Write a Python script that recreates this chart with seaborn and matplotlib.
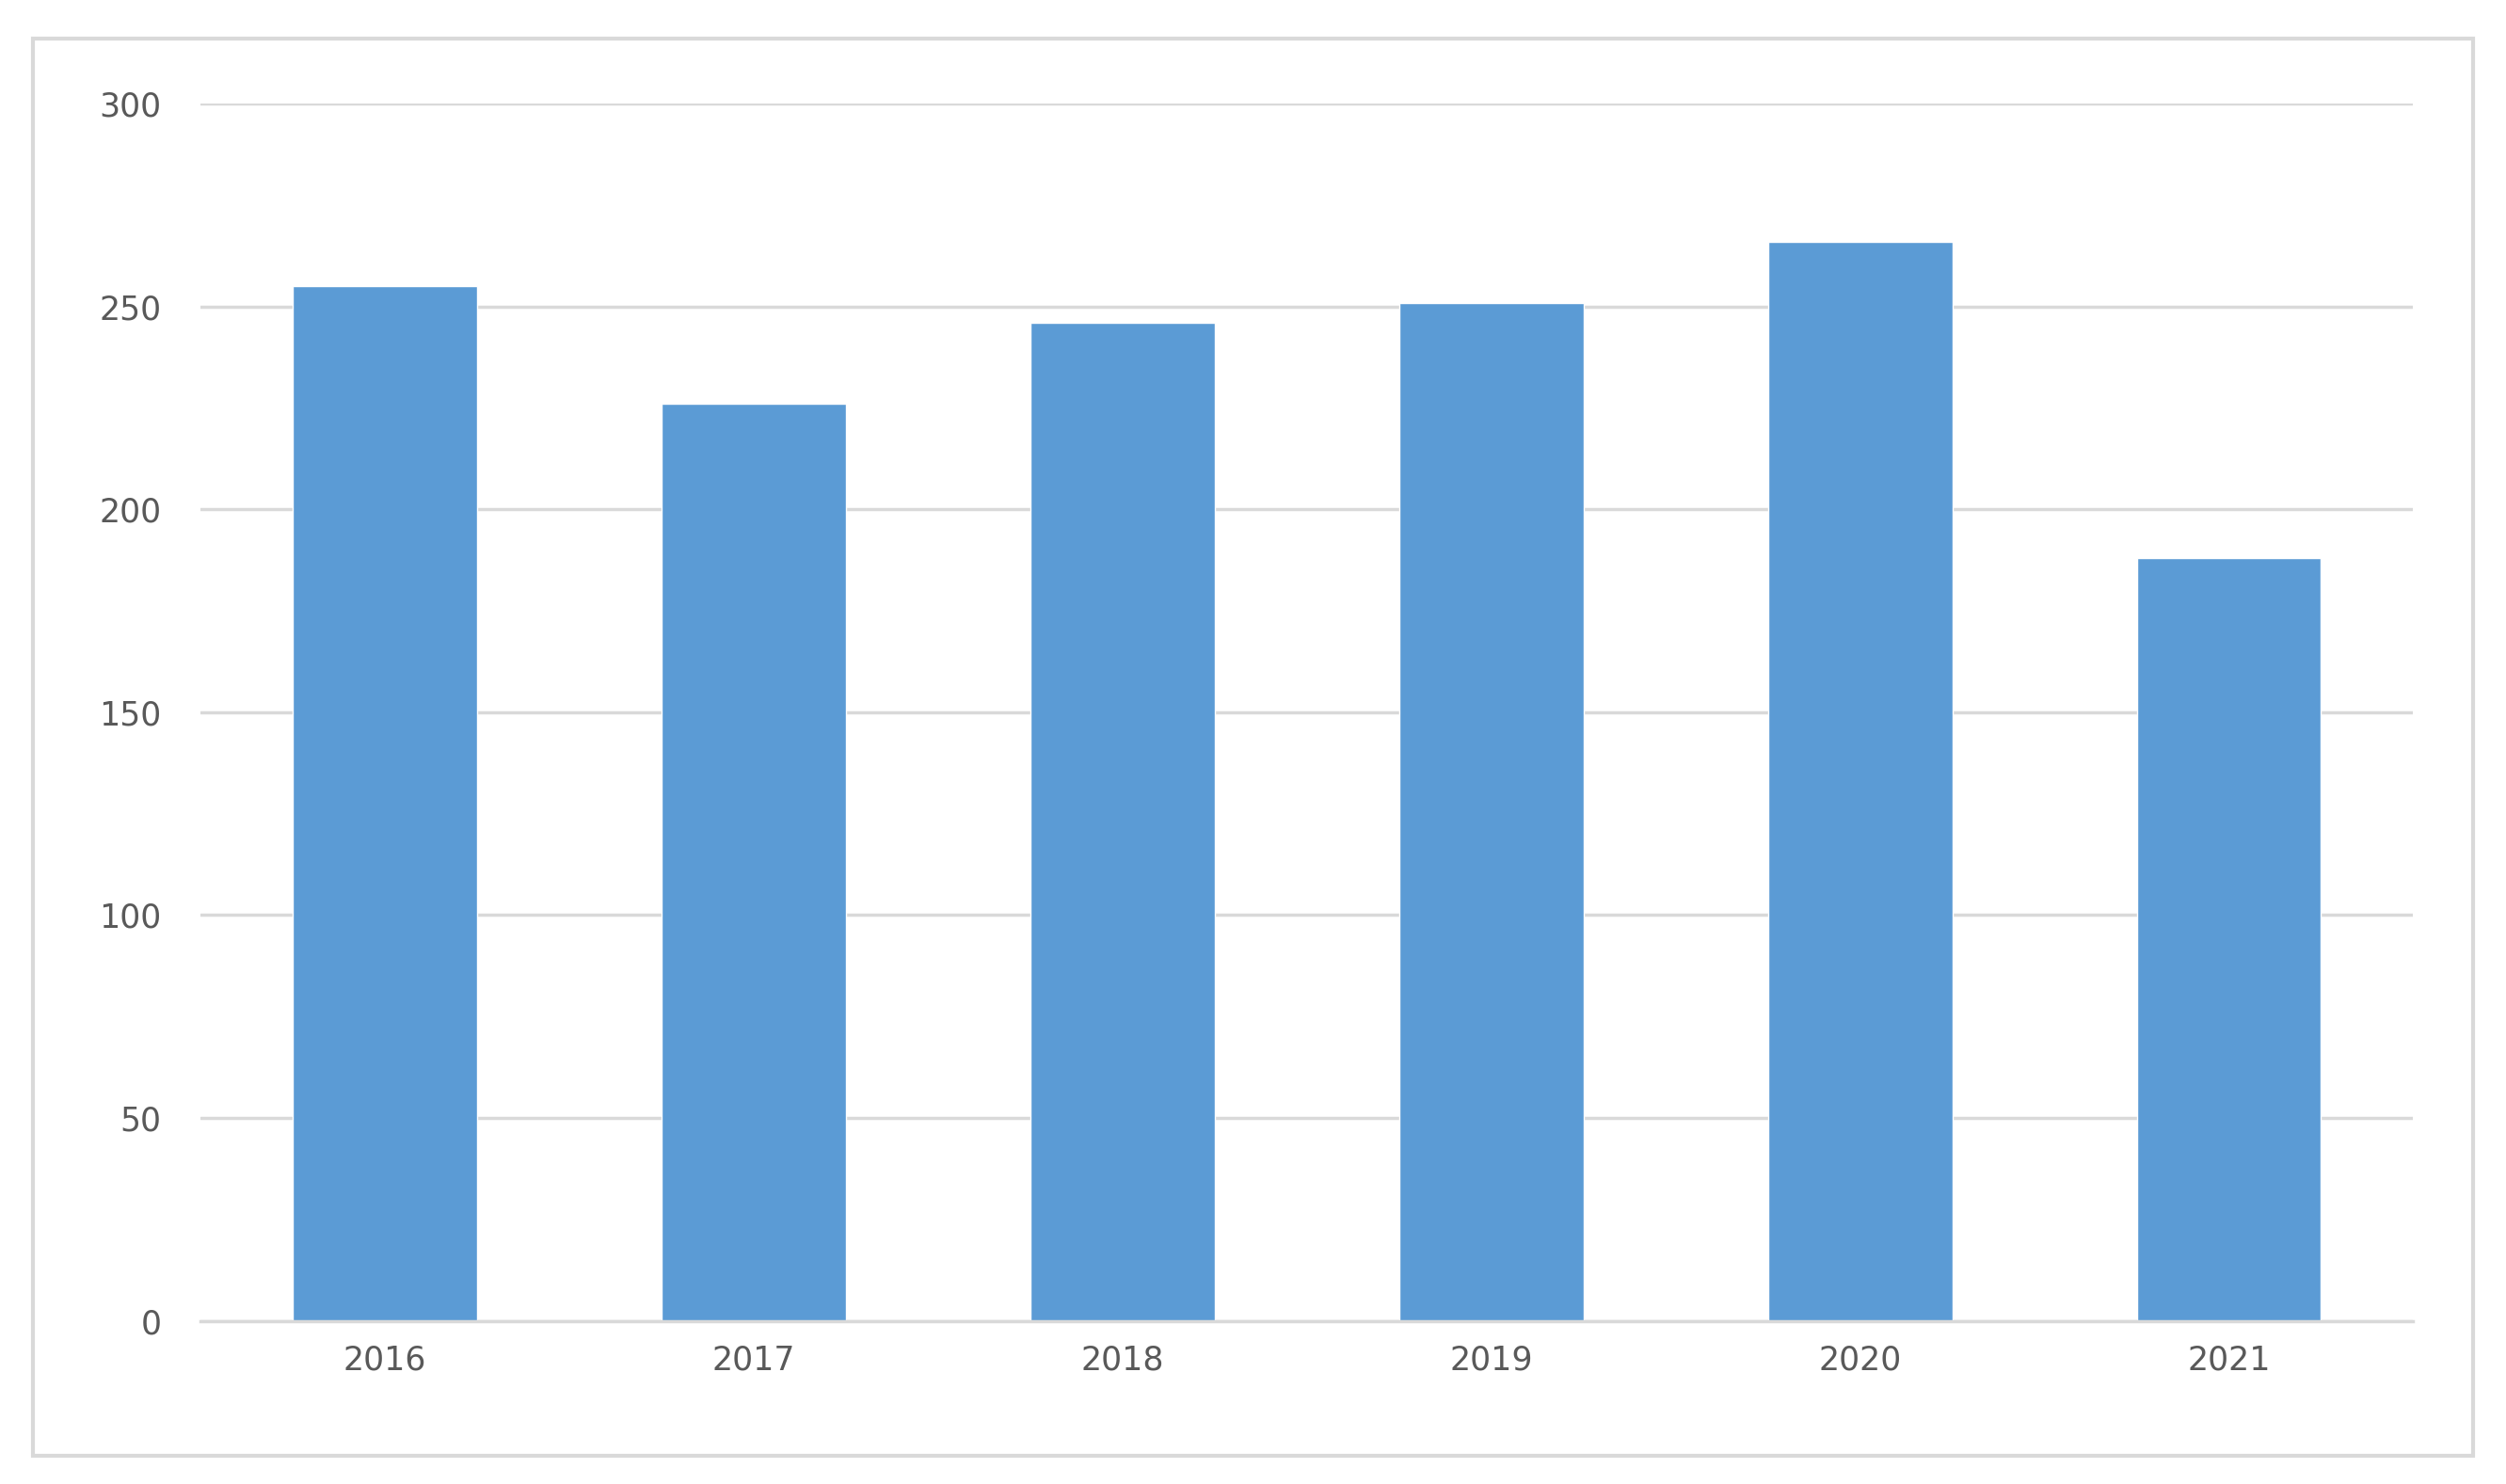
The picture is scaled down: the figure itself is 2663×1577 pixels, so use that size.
import matplotlib
matplotlib.use("Agg")
import matplotlib.pyplot as plt
import seaborn as sns
from matplotlib.patches import Rectangle

years = ["2016", "2017", "2018", "2019", "2020", "2021"]
values = [255, 226, 246, 251, 266, 188]

sns.set_style("white")
plt.rcParams["font.family"] = ["DejaVu Sans"]

fig = plt.figure(figsize=(26.63, 15.77), dpi=100)
ax = fig.add_axes([0.080, 0.110, 0.883, 0.820])

sns.barplot(x=years, y=values, color="#5B9BD5", saturation=1, width=0.5, ax=ax)

ax.set_ylim(0, 300)
ax.set_yticks(range(0, 301, 50))
ax.yaxis.grid(True, color="#D9D9D9", linewidth=2.5)
ax.set_axisbelow(True)
for s in ["top", "right", "left"]:
    ax.spines[s].set_visible(False)
ax.spines["bottom"].set_color("#D9D9D9")
ax.spines["bottom"].set_linewidth(2.5)
ax.tick_params(axis="both", length=0, labelsize=25, labelcolor="#595959")
ax.tick_params(axis="x", pad=18)
ax.tick_params(axis="y", pad=30)
ax.set_xlabel("")
ax.set_ylabel("")

# outer chart border
fig.patches.append(Rectangle((0.013, 0.019), 0.974, 0.955, transform=fig.transFigure,
                             fill=False, edgecolor="#D9D9D9", linewidth=3))

fig.savefig("out.png", dpi=100)
